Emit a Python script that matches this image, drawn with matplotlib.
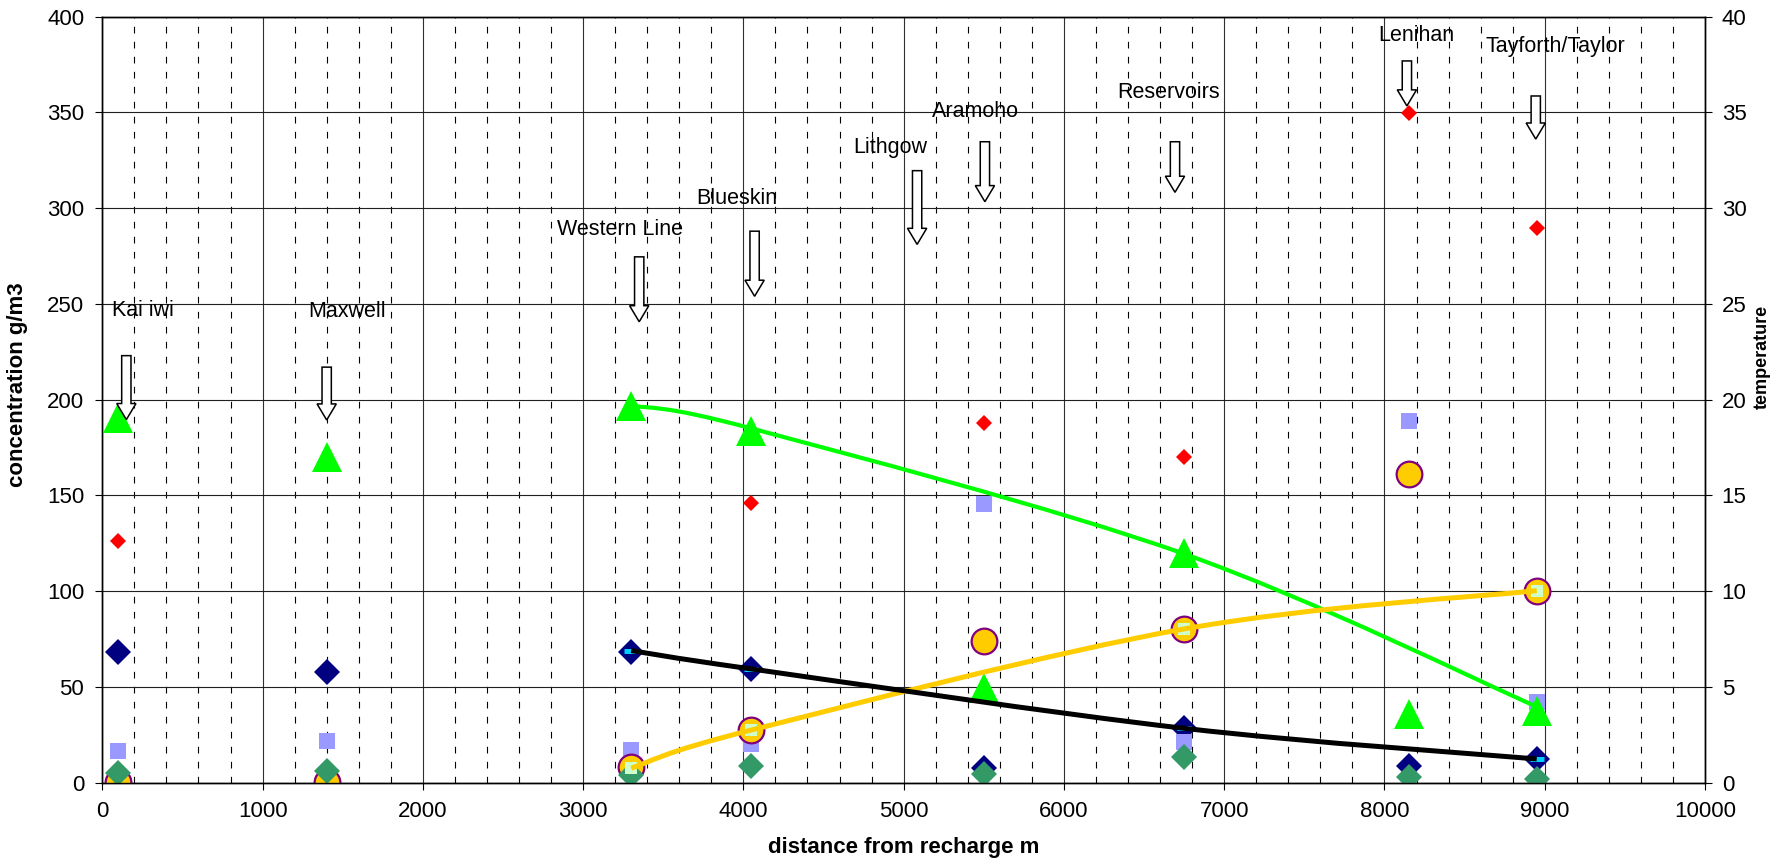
import numpy as np
import matplotlib
matplotlib.use("Agg")
import matplotlib.pyplot as plt
from matplotlib.path import Path
from matplotlib.patches import PathPatch, FancyArrow
from matplotlib.ticker import MultipleLocator

plt.rcParams['font.family'] = ['Liberation Sans', 'DejaVu Sans']

# ---------------- data ----------------
distance = [100, 1400, 3300, 4050, 5500, 6750, 8150, 8950]
navy_vals = [68, 58, 68.4, 59.4, 7.5, 28.4, 8.9, 12.2]
red_vals = [126, np.nan, np.nan, 146, 188, 170, 349.7, 289.7]
lavender_vals = [16.5, 22, 17.1, 20.2, 145.4, 21.4, 188.9, 42.3]
yellow_vals = [0.5, 0.5, 8.0, 27.5, 74.2, 80.3, 161, 100.3]
seagreen_vals = [5.2, 6.3, 4.0, 8.7, 4.4, 13.4, 3.1, 1.9]
triangle_vals = [190.3, 170.3, 196.8, 183.7, 49.7, 119.8, 35.8, 37.5]

trend_x = [3300, 4050, 6750, 8950]
black_trend = [69, 59.4, 28.4, 12.4]
yellow_trend = [7.6, 27.5, 80.3, 100.3]
green_trend = [197, 185, 119.5, 39.7]

sites = ["Kai iwi", "Maxwell", "Western Line", "Blueskin", "Lithgow",
         "Aramoho", "Reservoirs", "Lenihan", "Tayforth/Taylor"]
site_text_x = [59, 1284, 2837, 3704, 4685, 5174, 6333, 7963, 8631]
site_text_y = [243.8, 243.3, 286.1, 302.2, 328.7, 347.8, 357.4, 387.3, 381.8]
arrow_x = [150, 1400, 3350, 4070, 5084, 5507, 6693, 8140, 8944]
arrow_top = [223, 217, 274.6, 288, 319.6, 334.7, 334.7, 376.9, 358.6]
arrow_tip = [189.6, 189.4, 240.7, 254, 281.1, 303.4, 308.3, 353.4, 336.1]

x_ticks = list(range(0, 10001, 1000))
y_ticks = list(range(0, 401, 50))
y2_ticks = list(range(0, 41, 5))


def smooth_path(xs, ys):
    pts = np.column_stack([xs, ys]).astype(float)
    n = len(pts)
    verts = [pts[0]]
    codes = [Path.MOVETO]
    for i in range(n - 1):
        p0 = pts[i - 1] if i > 0 else pts[i]
        p1 = pts[i]
        p2 = pts[i + 1]
        p3 = pts[i + 2] if i + 2 < n else pts[i + 1]
        c1 = p1 + (p2 - p0) / 6.0
        c2 = p2 - (p3 - p1) / 6.0
        verts += [c1, c2, p2]
        codes += [Path.CURVE4] * 3
    return Path(verts, codes)


W, H = 1785, 861
fig = plt.figure(figsize=(W / 100, H / 100), dpi=100)
L, R, T, B = 102.3, 1705, 16.7, 782.7
ax = fig.add_axes([L / W, 1 - B / H, (R - L) / W, (B - T) / H])
ax2 = ax.twinx()

ax.set_xlim(0, 10000)
ax.set_ylim(0, 400)
ax2.set_ylim(0, 40)

ax.set_xticks(x_ticks)
ax.set_yticks(y_ticks)
ax2.set_yticks(y2_ticks)
ax.xaxis.set_minor_locator(MultipleLocator(200))

# grid
ax.set_axisbelow(True)
ax.grid(True, which='major', axis='y', color='#202020', lw=0.8)
ax.grid(True, which='major', axis='x', color='#303030', lw=0.8)
ax.grid(True, which='minor', axis='x', color='#000000', lw=0.8,
        linestyle=(0, (6.0, 7.5)))
ax.tick_params(which='minor', length=0)
ax.tick_params(which='major', direction='out', length=5, width=0.8,
               labelsize=16, pad=8, colors='black')
ax2.tick_params(which='major', direction='out', length=5, width=0.8,
                labelsize=16, pad=7, colors='black')
for a in (ax, ax2):
    for s in a.spines.values():
        s.set_color('black')
        s.set_linewidth(1.0)

# scatter series
ax.plot(distance, navy_vals, 'D', color='#000080', ms=13, mew=0, zorder=3)
ax.plot(distance, lavender_vals, 's', color='#9999FF', ms=11, mew=0, zorder=3)
ax.plot(distance, yellow_vals, 'o', mfc='#FFCC00', mec='#800080', ms=18.5,
        mew=1.6, zorder=3)
ax.plot(distance, seagreen_vals, 'D', color='#339966', ms=13, mew=0, zorder=3)
ax.plot(distance, red_vals, 'D', color='#FF0000', ms=8.5, mew=0, zorder=3)
ax.plot(distance, triangle_vals, '^', color='#00FF00', ms=21.5, mew=0, zorder=3)

# trend series markers
ax.plot(trend_x, black_trend, '_', mec='#00CCFF', ms=9.5, mew=3.6, zorder=4)
ax.plot(trend_x, yellow_trend, 's', color='#CCFFCC', ms=8.5, mew=0, zorder=4)

# smoothed lines
ax.add_patch(PathPatch(smooth_path(trend_x, green_trend), fill=False,
                       ec='#00FF00', lw=3.0, capstyle='butt', zorder=5))
ax.add_patch(PathPatch(smooth_path(trend_x, yellow_trend), fill=False,
                       ec='#FFCC00', lw=3.6, capstyle='butt', zorder=5))
ax.add_patch(PathPatch(smooth_path(trend_x, black_trend), fill=False,
                       ec='#000000', lw=3.6, capstyle='butt', zorder=5))

# site arrows and labels
for name, tx, ty, axx, atop, atip in zip(sites, site_text_x, site_text_y,
                                         arrow_x, arrow_top, arrow_tip):
    ax.text(tx, ty, name, ha='left', va='baseline', fontsize=15.5, zorder=6)
    length = atop - atip
    ax.add_patch(FancyArrow(axx, atop, 0, -length, width=58, head_width=120,
                            head_length=min(8.4, 0.45 * length),
                            length_includes_head=True, fc='white', ec='black',
                            lw=1.1, zorder=6))

# axis labels
ax.set_xlabel('distance from recharge m', fontsize=16, fontweight='bold')
ax.xaxis.set_label_coords(0.5, -0.084)
ax.xaxis.label.set_va('center')
ax.set_ylabel('concentration g/m3', fontsize=16, fontweight='bold')
ax.yaxis.set_label_coords(-0.0526, 0.52)
ax.yaxis.label.set_va('center')
ax2.set_ylabel('temperature', fontsize=13, fontweight='bold')
ax2.yaxis.set_label_coords(1.0356, 0.556)
ax2.yaxis.label.set_va('center')

fig.savefig('out.png', dpi=100)
